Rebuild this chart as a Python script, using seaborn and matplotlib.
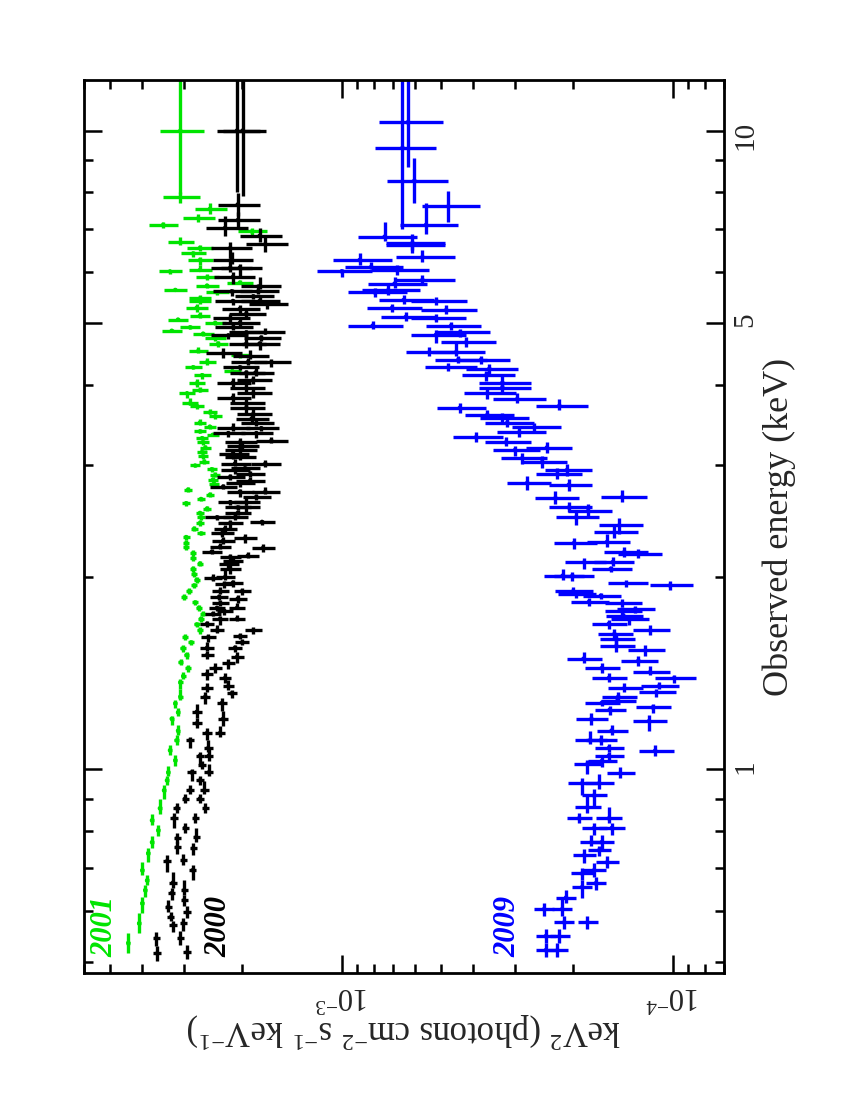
"""
X-ray spectra (keV^2 F_E vs observed energy) for the 2000, 2001 and 2009
observations, drawn as a rotated (portrait) page like the original figure.
"""

import numpy as np
import pandas as pd
import matplotlib
matplotlib.use("Agg")  # no display
import matplotlib.pyplot as plt
import seaborn as sns
from matplotlib.ticker import FixedLocator, NullFormatter, FixedFormatter

FLUX_UNIT = 1e-3  # flux lists below are in units of 1e-3

# 2001 (green): energy (keV), flux (1e-3), error (%)
green_energy = [
    0.535, 0.574, 0.617, 0.647, 0.670, 0.695, 0.739, 0.769, 0.803, 0.832,
    0.869, 0.927, 0.961, 0.989, 1.033, 1.071, 1.110, 1.150, 1.200, 1.228,
    1.268, 1.300, 1.368, 1.400, 1.440, 1.470, 1.510, 1.546, 1.580, 1.610,
    1.650, 1.686, 1.720, 1.750, 1.790, 1.825, 1.860, 1.900, 1.940, 1.980,
    2.020, 2.060, 2.100, 2.140, 2.180, 2.225, 2.260, 2.310, 2.340, 2.380,
    2.430, 2.480, 2.520, 2.560, 2.610, 2.650, 2.690, 2.740, 2.800, 2.840,
    2.890, 2.950, 2.990, 3.030, 3.090, 3.140, 3.190, 3.250, 3.300, 3.340,
    3.380, 3.440, 3.490, 3.570, 3.620, 3.710, 3.740, 3.880, 3.920, 4.020,
    4.140, 4.200, 4.260, 4.340, 4.460, 4.520, 4.640, 4.740, 4.810, 4.860,
    4.920, 5.000, 5.060, 5.130, 5.280, 5.410, 5.460, 5.580, 5.630, 5.720,
    5.780, 5.890, 6.020, 6.050, 6.270, 6.420, 6.550, 6.680, 6.950, 7.120,
    7.290, 7.540, 7.860,
]
green_flux = [
    4.41, 4.09, 4.00, 3.92, 3.87, 4.00, 3.84, 3.74, 3.58, 3.74,
    3.54, 3.44, 3.37, 3.34, 3.18, 3.30, 3.15, 3.12, 3.26, 3.12,
    3.18, 3.07, 3.07, 3.01, 2.91, 3.06, 2.94, 3.02, 2.85, 2.97,
    2.68, 2.74, 2.66, 2.62, 2.70, 2.77, 2.99, 2.89, 2.79, 2.74,
    2.79, 2.81, 2.68, 2.81, 2.81, 2.95, 2.95, 2.95, 2.66, 2.79,
    2.68, 2.66, 2.68, 2.55, 2.95, 2.66, 2.50, 2.91, 2.43, 2.45,
    2.41, 2.47, 2.77, 2.60, 2.62, 2.64, 2.58, 2.62, 2.64, 2.45,
    2.68, 2.50, 2.68, 2.41, 2.50, 2.74, 2.87, 2.93, 2.68, 2.74,
    2.64, 2.14, 2.81, 2.55, 2.03, 2.71, 2.36, 2.41, 2.62, 3.26,
    2.87, 2.41, 3.12, 2.68, 2.74, 2.68, 2.68, 2.38, 3.18, 2.55,
    2.03, 2.55, 3.30, 2.68, 2.68, 2.81, 2.68, 3.07, 1.87, 3.46,
    2.71, 2.50, 3.07,
]
green_err_pct = [
    1.5, 1.5, 1.5, 1.5, 1.5, 1.5, 1.5, 1.5, 1.5, 1.5,
    1.5, 1.5, 1.5, 1.5, 1.5, 1.5, 1.5, 1.5, 1.5, 1.5,
    1.5, 1.8, 1.8, 1.8, 1.8, 1.8, 2.0, 2.0, 2.0, 2.0,
    2.0, 2.0, 2.0, 2.0, 2.0, 2.0, 2.0, 2.0, 2.0, 2.0,
    2.2, 2.2, 2.2, 2.2, 2.2, 2.2, 2.2, 2.5, 2.5, 2.5,
    2.5, 2.5, 2.5, 3.0, 3.0, 3.0, 3.0, 3.0, 3.5, 3.5,
    3.5, 3.5, 3.5, 3.5, 3.5, 3.5, 4.0, 4.0, 4.0, 4.0,
    4.0, 4.5, 4.5, 4.5, 5.0, 5.0, 5.5, 5.5, 5.5, 5.5,
    6.0, 6.0, 6.0, 6.0, 6.5, 6.5, 6.5, 7.0, 7.0, 7.0,
    7.0, 7.0, 7.0, 7.0, 7.5, 7.5, 7.5, 8.0, 8.0, 8.0,
    9.0, 8.0, 8.0, 8.0, 8.5, 8.5, 9.0, 9.0, 10.0, 10.0,
    11.0, 11.0, 13.0,
]
green_top_energy = [10.0]
green_top_lo = [7.95]
green_top_hi = [12.5]
green_top_flux = [3.07]
green_top_err_pct = [15.0]

# 2000 (black), two instruments interleaved
black_energy = [
    0.515, 0.517, 0.544, 0.544, 0.570, 0.574, 0.587, 0.597, 0.609, 0.624,
    0.640, 0.647, 0.665, 0.695, 0.718, 0.720, 0.752, 0.755, 0.780, 0.783,
    0.810, 0.838, 0.838, 0.869, 0.869, 0.900, 0.900, 0.927, 0.927, 0.961,
    0.989, 0.989, 1.014, 1.050, 1.050, 1.080, 1.110, 1.140, 1.140, 1.180,
    1.200, 1.230, 1.270, 1.300, 1.315, 1.340, 1.350, 1.390, 1.410, 1.440,
    1.465, 1.500, 1.510, 1.550, 1.550, 1.580, 1.610, 1.615, 1.650, 1.650,
    1.690, 1.720, 1.720, 1.750, 1.770, 1.790, 1.790, 1.820, 1.850, 1.860,
    1.900, 1.900, 1.950, 1.960, 1.990, 2.000, 2.060, 2.100, 2.120, 2.150,
    2.160, 2.190, 2.220, 2.230, 2.280, 2.300, 2.340, 2.380, 2.430, 2.440,
    2.480, 2.480, 2.520, 2.570, 2.570, 2.620, 2.620, 2.670, 2.720, 2.720,
    2.770, 2.810, 2.830, 2.870, 2.900, 2.940, 2.960, 3.010, 3.010, 3.080,
    3.120, 3.160, 3.210, 3.250, 3.270, 3.360, 3.360, 3.420, 3.420, 3.480,
    3.540, 3.600, 3.680, 3.740, 3.820, 3.880, 3.950, 4.030, 4.070, 4.180,
    4.180, 4.260, 4.340, 4.340, 4.440, 4.480, 4.640, 4.640, 4.740, 4.780,
    4.830, 4.830, 4.920, 5.000, 5.080, 5.170, 5.260, 5.350, 5.410, 5.410,
    5.500, 5.600, 5.600, 5.700, 5.900, 6.100, 6.100, 6.280, 6.550, 6.640,
    6.840, 7.040, 7.240, 7.660,
]
black_flux = [
    3.61, 2.93, 3.63, 3.07, 3.23, 3.01, 3.28, 2.93, 3.34, 2.99,
    3.26, 2.99, 3.23, 2.82, 3.37, 3.01, 2.81, 3.14, 3.14, 2.75,
    2.97, 3.21, 2.77, 3.15, 2.58, 2.97, 2.68, 2.87, 2.60, 2.68,
    2.84, 2.52, 2.64, 2.68, 2.52, 2.53, 2.87, 2.55, 2.33, 2.74,
    2.28, 2.74, 2.30, 2.58, 2.15, 2.55, 2.20, 2.25, 2.55, 2.41,
    2.20, 2.07, 2.55, 2.10, 2.55, 2.00, 2.53, 2.03, 1.85, 2.38,
    2.55, 2.33, 2.07, 2.45, 2.26, 2.38, 2.07, 2.33, 2.06, 2.35,
    2.00, 2.33, 2.26, 2.13, 2.45, 2.25, 2.17, 2.20, 2.13, 2.17,
    1.92, 2.47, 1.73, 2.33, 2.28, 1.96, 2.30, 2.25, 2.17, 1.74,
    2.38, 2.10, 2.06, 1.94, 2.06, 2.17, 1.94, 1.81, 2.03, 1.70,
    2.28, 2.03, 1.89, 2.17, 1.89, 2.10, 1.96, 1.70, 2.10, 2.03,
    2.13, 2.03, 2.00, 2.03, 1.63, 1.81, 2.20, 1.75, 2.13, 1.81,
    1.87, 1.85, 1.94, 1.94, 2.13, 1.85, 1.94, 2.13, 1.85, 1.94,
    1.82, 2.03, 1.63, 1.92, 1.89, 2.28, 1.77, 1.94, 1.75, 2.20,
    1.94, 1.70, 2.13, 2.03, 2.17, 1.94, 2.03, 1.68, 2.13, 1.77,
    1.85, 2.15, 1.79, 1.77, 2.13, 2.03, 2.17, 2.15, 2.17, 1.70,
    1.77, 2.25, 2.06, 2.06,
]
black_err_pct = [
    2.5, 2.5, 2.5, 2.5, 2.5, 2.5, 2.5, 2.5, 2.5, 2.5,
    2.5, 2.5, 2.5, 2.5, 2.5, 2.5, 2.5, 2.5, 2.5, 2.5,
    2.5, 2.5, 2.5, 2.5, 2.5, 2.5, 2.5, 3.0, 3.0, 3.0,
    3.0, 3.0, 3.0, 3.0, 3.0, 3.0, 3.0, 3.5, 3.5, 3.5,
    3.5, 3.5, 3.5, 3.5, 3.5, 4.0, 4.0, 4.0, 4.0, 4.5,
    4.5, 4.5, 4.5, 5.0, 5.0, 5.0, 5.0, 5.0, 6.0, 5.0,
    5.0, 5.5, 5.5, 5.5, 5.5, 5.5, 5.5, 6.0, 6.0, 6.0,
    6.0, 6.0, 6.5, 6.5, 6.5, 6.5, 7.0, 7.0, 7.0, 7.0,
    7.5, 7.0, 8.0, 7.5, 8.0, 8.0, 8.0, 8.0, 8.5, 8.5,
    8.5, 8.5, 9.0, 9.0, 9.0, 9.0, 9.0, 9.5, 9.5, 9.5,
    9.5, 10.0, 10.0, 10.0, 10.0, 10.0, 10.0, 10.5, 10.5, 10.5,
    10.5, 11.0, 11.0, 11.0, 11.0, 11.0, 11.0, 11.5, 11.5, 11.5,
    11.5, 12.0, 12.0, 12.0, 12.0, 12.0, 12.0, 12.0, 12.0, 12.0,
    12.0, 12.5, 12.5, 12.5, 12.5, 12.5, 13.0, 13.0, 13.0, 13.0,
    13.0, 13.0, 13.0, 13.0, 13.0, 13.0, 13.0, 13.5, 13.5, 13.5,
    13.5, 13.5, 13.5, 14.0, 14.0, 14.0, 14.0, 14.0, 14.0, 14.5,
    14.5, 14.5, 14.5, 14.5,
]
black_top_energy = [10.0, 10.0]
black_top_lo = [8.0, 7.9]
black_top_hi = [12.5, 12.5]
black_top_flux = [2.07, 1.99]
black_top_err_pct = [15.0, 15.0]

# 2009 (blue), two instruments interleaved
blue_energy = [
    0.521, 0.521, 0.548, 0.548, 0.576, 0.576, 0.604, 0.604, 0.630, 0.654,
    0.663, 0.687, 0.695, 0.715, 0.734, 0.747, 0.769, 0.769, 0.809, 0.809,
    0.838, 0.838, 0.872, 0.910, 0.951, 0.951, 0.986, 1.020, 1.030, 1.050,
    1.070, 1.080, 1.110, 1.110, 1.150, 1.190, 1.200, 1.240, 1.250, 1.270,
    1.280, 1.300, 1.320, 1.340, 1.350, 1.390, 1.390, 1.420, 1.440, 1.480,
    1.490, 1.535, 1.560, 1.600, 1.630, 1.650, 1.690, 1.720, 1.740, 1.770,
    1.780, 1.820, 1.830, 1.870, 1.880, 1.900, 1.940, 1.955, 2.010, 2.010,
    2.060, 2.110, 2.110, 2.170, 2.190, 2.260, 2.270, 2.350, 2.410, 2.480,
    2.540, 2.570, 2.660, 2.670, 2.790, 2.810, 2.900, 2.940, 3.030, 3.070,
    3.160, 3.190, 3.250, 3.310, 3.370, 3.430, 3.490, 3.550, 3.590, 3.680,
    3.710, 3.800, 3.880, 3.960, 4.030, 4.140, 4.240, 4.260, 4.380, 4.380,
    4.500, 4.500, 4.660, 4.790, 4.830, 4.950, 4.950, 5.080, 5.110, 5.240,
    5.280, 5.410, 5.430, 5.580, 5.620, 5.760, 5.840, 6.020, 6.040, 6.120,
    6.270, 6.340, 6.620, 6.670, 6.820, 7.120, 7.610, 8.350,
]
blue_flux = [
    0.242, 0.223, 0.242, 0.220, 0.213, 0.181, 0.245, 0.216, 0.210, 0.188,
    0.171, 0.188, 0.173, 0.158, 0.185, 0.167, 0.164, 0.176, 0.173, 0.153,
    0.192, 0.156, 0.181, 0.173, 0.188, 0.167, 0.144, 0.181, 0.164, 0.156,
    0.113, 0.156, 0.165, 0.178, 0.153, 0.118, 0.176, 0.155, 0.115, 0.164,
    0.147, 0.146, 0.112, 0.140, 0.110, 0.099, 0.156, 0.117, 0.164, 0.127,
    0.186, 0.121, 0.148, 0.148, 0.150, 0.117, 0.156, 0.136, 0.141, 0.142,
    0.130, 0.142, 0.179, 0.165, 0.196, 0.200, 0.102, 0.138, 0.201, 0.215,
    0.154, 0.185, 0.152, 0.127, 0.140, 0.199, 0.158, 0.150, 0.145, 0.196,
    0.180, 0.206, 0.226, 0.142, 0.206, 0.275, 0.223, 0.209, 0.248, 0.285,
    0.300, 0.240, 0.319, 0.393, 0.291, 0.262, 0.316, 0.327, 0.363, 0.440,
    0.220, 0.295, 0.363, 0.327, 0.327, 0.366, 0.358, 0.476, 0.379, 0.444,
    0.543, 0.451, 0.421, 0.519, 0.440, 0.467, 0.806, 0.519, 0.640, 0.483,
    0.704, 0.517, 0.650, 0.795, 0.725, 0.692, 0.570, 1.000, 0.680, 0.814,
    0.883, 0.570, 0.611, 0.611, 0.742, 0.556, 0.476, 0.603,
]
blue_err_pct = [
    7, 7, 7, 7, 7, 7, 7, 7, 7, 7,
    7, 8, 8, 8, 8, 8, 8, 8, 9, 9,
    9, 9, 9, 9, 10, 10, 10, 10, 10, 10,
    12, 10, 11, 11, 11, 12, 11, 11, 12, 12,
    12, 12, 13, 12, 13, 14, 12, 13, 12, 13,
    12, 13, 12, 12, 12, 13, 12, 13, 13, 13,
    13, 13, 13, 13, 13, 13, 15, 14, 14, 14,
    14, 14, 14, 15, 15, 15, 15, 15, 15, 15,
    15, 15, 15, 16, 15, 15, 16, 16, 16, 16,
    16, 16, 16, 17, 17, 17, 17, 17, 17, 17,
    18, 18, 18, 18, 18, 18, 18, 18, 18, 18,
    18, 18, 19, 19, 19, 19, 19, 19, 19, 19,
    19, 19, 19, 20, 20, 20, 20, 19, 20, 20,
    20, 20, 20, 20, 20, 20, 20, 21,
]
blue_top_energy = [9.4, 10.3]
blue_top_lo = [7.0, 8.76]
blue_top_hi = [12.5, 12.5]
blue_top_flux = [0.655, 0.632]
blue_top_err_pct = [21.0, 22.0]

years = ["2001", "2000", "2009"]
colors = {"2001": "#00e400", "2000": "black", "2009": "#0000ff"}
n_tracks = {"2001": 1, "2000": 2, "2009": 2}

series = {
    "2001": (green_energy, green_flux, green_err_pct,
             green_top_energy, green_top_lo, green_top_hi, green_top_flux, green_top_err_pct),
    "2000": (black_energy, black_flux, black_err_pct,
             black_top_energy, black_top_lo, black_top_hi, black_top_flux, black_top_err_pct),
    "2009": (blue_energy, blue_flux, blue_err_pct,
             blue_top_energy, blue_top_lo, blue_top_hi, blue_top_flux, blue_top_err_pct),
}


def contiguous_halfwidths(energy):
    """energy bins of one instrument touch each other: edges sit midway (in log)"""
    e = np.asarray(energy, dtype=float)
    mid = np.sqrt(e[:-1] * e[1:])
    lo = np.concatenate([[e[0] ** 2 / mid[0]], mid])
    hi = np.concatenate([mid, [e[-1] ** 2 / mid[-1]]])
    return np.vstack([e - lo, hi - e])


# Build one long table for seaborn
rows = []
for year in years:
    energy, flux, err, t_e, t_lo, t_hi, t_f, t_err = series[year]
    k = n_tracks[year]
    for t in range(k):
        e = np.asarray(energy[t::k], dtype=float)
        xerr_e = contiguous_halfwidths(e)
        for i in range(len(e)):
            f = flux[t::k][i] * FLUX_UNIT
            rows.append(dict(year=year, energy=e[i], flux=f,
                             e_lo=xerr_e[0, i], e_hi=xerr_e[1, i],
                             f_err=f * err[t::k][i] / 100.0))
    for i in range(len(t_e)):
        f = t_f[i] * FLUX_UNIT
        rows.append(dict(year=year, energy=t_e[i], flux=f,
                         e_lo=t_e[i] - t_lo[i], e_hi=t_hi[i] - t_e[i],
                         f_err=f * t_err[i] / 100.0))
df = pd.DataFrame(rows)

sns.set_theme(style="ticks")
plt.rcParams["font.family"] = ["Liberation Serif", "DejaVu Serif"]
plt.rcParams["mathtext.fontset"] = "custom"
plt.rcParams["mathtext.rm"] = "Liberation Serif"
plt.rcParams["mathtext.it"] = "Liberation Serif:italic"
plt.rcParams["mathtext.bf"] = "Liberation Serif:bold"

fig = plt.figure(figsize=(8.5, 11), dpi=100)
ax = fig.add_axes([0.0988, 0.1155, 0.7530, 0.8118])

# page is rotated: flux runs right-to-left, energy bottom-to-top
for year in years:
    d = df[df["year"] == year]
    ax.errorbar(d["flux"], d["energy"],
                xerr=d["f_err"], yerr=[d["e_lo"], d["e_hi"]],
                fmt="none", ecolor=colors[year], elinewidth=2.4, capsize=0)
sns.scatterplot(data=df, x="flux", y="energy", hue="year", palette=colors,
                s=10, linewidth=0, legend=False, ax=ax)

ax.set_xscale("log")
ax.set_yscale("log")
ax.set_xlim(6.0e-3, 7.0e-5)
ax.set_ylim(0.48, 12.0)

# ticks
ax.xaxis.set_major_locator(FixedLocator([1e-3, 1e-4]))
ax.xaxis.set_major_formatter(FixedFormatter([r"$10^{-3}$", r"$10^{-4}$"]))
x_minor = [m * 10.0 ** p for p in (-5, -4, -3) for m in range(2, 10)]
ax.xaxis.set_minor_locator(FixedLocator(x_minor))
ax.xaxis.set_minor_formatter(NullFormatter())

ax.yaxis.set_major_locator(FixedLocator([1, 5, 10]))
ax.yaxis.set_major_formatter(FixedFormatter(["1", "5", "10"]))
ax.yaxis.set_minor_locator(FixedLocator([0.5, 0.6, 0.7, 0.8, 0.9, 2, 3, 4, 6, 7, 8, 9]))
ax.yaxis.set_minor_formatter(NullFormatter())

ax.tick_params(which="both", direction="in", top=True, bottom=True,
               left=True, right=True, width=1.8, color="black")
ax.tick_params(which="major", length=13)
ax.tick_params(which="minor", length=6.5)
ax.tick_params(axis="x", labelsize=22, labelrotation=180, pad=5)
ax.tick_params(axis="y", labelleft=False, labelright=True,
               labelsize=21, labelrotation=90, pad=6)
for sp in ax.spines.values():
    sp.set_linewidth(2.0)
    sp.set_color("black")

ax.set_xlabel(r"keV$^{2}$ (photons cm$^{-2}$ s$^{-1}$ keV$^{-1}$)",
              fontsize=25, rotation=180, labelpad=1)
ax.yaxis.set_label_position("right")
ax.set_ylabel("Observed energy (keV)", fontsize=26, rotation=90, labelpad=3)

# year tags near the low-energy end
tag_x = {"2001": 0.033, "2000": 0.210, "2009": 0.662}
for year in years:
    ax.text(tag_x[year], 0.052, year, transform=ax.transAxes, rotation=90,
            ha="center", va="center", fontsize=22, fontstyle="italic",
            fontweight="bold", color=colors[year])

fig.savefig("out.png", dpi=100)
plt.close(fig)
